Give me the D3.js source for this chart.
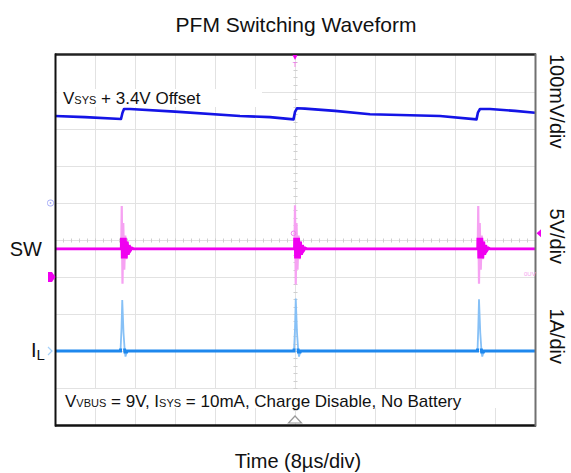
<!DOCTYPE html>
<html><head><meta charset="utf-8">
<script src="https://cdn.jsdelivr.net/npm/d3@7"></script>
<style>
body{margin:0;background:#fff;}
svg{display:block;font-family:Arial,"Liberation Sans",sans-serif;}
</style></head><body>
<svg id="chart" width="571" height="473"></svg>
<script>
// ---------------- data ----------------
const titleText = "PFM Switching Waveform";
const xLabelText = "Time (8µs/div)";
const timePerDiv = 8;          // µs per division
const xDivisions = 12;
const yDivisions = 10;
const scaleLabels = ["100mV/div", "5V/div", "1A/div"];
const traceLabels = ["SW", "I", "L"];

// VSYS (mV above 3.4V offset) vs time (µs); 100 mV/div, reference at +1 div
const vsysData = [
  [0,235],[6,232],[13.2,227],[13.5,244],[13.8,254],[15,254],[24,247],[37,235],[43,232],[47.7,226],
  [48.0,246],[48.4,256],[50,255],[56,249],[63,240],[77,235],[84.3,226],
  [84.6,245],[85.0,254],[87,254],[92,249],[96,244]
];
// SW node (V) vs time (µs); 5 V/div, ground at -1 div
const swData = [
  [0,3.8],[13.25,3.8],[13.35,9.6],[13.5,-0.9],[13.65,7.3],[13.85,1.0],[14.05,5.6],[14.25,2.4],[14.45,4.8],[14.65,3.0],[14.85,4.3],[15.1,3.6],[15.4,3.9],[15.7,3.8],
  [47.9,3.8],[48.0,9.7],[48.15,-1.0],[48.3,7.3],[48.5,1.0],[48.7,5.6],[48.9,2.4],[49.1,4.8],[49.3,3.0],[49.5,4.3],[49.75,3.6],[50.05,3.9],[50.35,3.8],
  [84.55,3.8],[84.65,9.6],[84.8,-0.9],[84.95,7.3],[85.15,1.0],[85.35,5.6],[85.55,2.4],[85.75,4.8],[85.95,3.0],[86.15,4.3],[86.4,3.6],[86.7,3.9],[87.0,3.8],[96,3.8]
];
// Inductor current (A) vs time (µs); 1 A/div, ground at -3 div
const ilData = [
  [0,0],[13.1,0],[13.3,0.6],[13.45,1.38],[13.7,0.5],[13.95,0],[14.1,-0.15],[14.4,0],
  [47.8,0],[48.0,0.6],[48.15,1.42],[48.4,0.5],[48.65,0],[48.8,-0.15],[49.1,0],
  [84.5,0],[84.65,0.6],[84.8,1.4],[85.05,0.5],[85.3,0],[85.45,-0.15],[85.75,0],[96,0]
];
const channels = [
  {name:"VSYS", data: vsysData, offsetDiv: 1,  perDiv: 100},
  {name:"SW",   data: swData,   offsetDiv: -1, perDiv: 5},
  {name:"IL",   data: ilData,   offsetDiv: -3, perDiv: 1}
];

// ---------------- layout ----------------
const svg = d3.select("#chart");
const P = {l:55, r:535, t:55, b:425};
const x = d3.scaleLinear().domain([0, xDivisions*timePerDiv]).range([P.l, P.r]);
const xd = d3.scaleLinear().domain([0, xDivisions]).range([P.l, P.r]);
const yd = d3.scaleLinear().domain([-yDivisions/2, yDivisions/2]).range([P.b, P.t]);
const yOf = ch => v => yd(ch.offsetDiv + v/ch.perDiv);

svg.append("rect").attr("width",571).attr("height",473).attr("fill","#fff");

// grid
const grid = svg.append("g").attr("stroke","#e2e2e2").attr("stroke-width",1);
d3.range(1, xDivisions).forEach(i => grid.append("line")
  .attr("x1", Math.round(xd(i))+0.5).attr("x2", Math.round(xd(i))+0.5).attr("y1",P.t).attr("y2",P.b));
d3.range(-yDivisions/2+1, yDivisions/2).forEach(i => grid.append("line")
  .attr("y1", Math.round(yd(i))+0.5).attr("y2", Math.round(yd(i))+0.5).attr("x1",P.l).attr("x2",P.r));
// minor ticks on centre lines
const tk = svg.append("g").attr("stroke","#cfcfcf").attr("stroke-width",1);
d3.range(0, xDivisions*5+1).forEach(i => {
  const xx = Math.round(xd(i/5))+0.5, yy = Math.round(yd(0))+0.5;
  tk.append("line").attr("x1",xx).attr("x2",xx).attr("y1",yy-2).attr("y2",yy+2);
});
d3.range(0, yDivisions*5+1).forEach(i => {
  const yy = Math.round(yd(-5+i/5))+0.5, xx = Math.round(xd(6))+0.5;
  tk.append("line").attr("y1",yy).attr("y2",yy).attr("x1",xx-2).attr("x2",xx+2);
});

// white label boxes
svg.append("rect").attr("x",57).attr("y",89).attr("width",205).attr("height",18).attr("fill","#fff");
svg.append("rect").attr("x",57).attr("y",389).attr("width",476).attr("height",19).attr("fill","#fff");

// clip bands for the "dense" part of the SW / IL traces
const defs = svg.append("defs");
const swY = yOf(channels[1]), ilY = yOf(channels[2]);
defs.append("clipPath").attr("id","swBand").append("rect")
  .attr("x",P.l).attr("width",P.r-P.l).attr("y",swY(5.3)).attr("height",swY(2.5)-swY(5.3));
defs.append("clipPath").attr("id","ilBand").append("rect")
  .attr("x",P.l).attr("width",P.r-P.l).attr("y",ilY(0.07)).attr("height",ilY(-0.07)-ilY(0.07));

// traces
const lineFor = ch => d3.line().x(d => x(d[0])).y(d => yOf(ch)(d[1]));
// VSYS
svg.append("path").datum(vsysData).attr("d", lineFor(channels[0]))
  .attr("fill","none").attr("stroke","#1414e6").attr("stroke-width",2.6).attr("stroke-linejoin","round");
// SW: light (fast edges) then dense magenta
svg.append("path").datum(swData).attr("d", lineFor(channels[1]))
  .attr("fill","none").attr("stroke","#f6a2f2").attr("stroke-width",2.2);
svg.append("path").datum(swData).attr("d", lineFor(channels[1])).attr("clip-path","url(#swBand)")
  .attr("fill","none").attr("stroke","#f000f0").attr("stroke-width",2.8);
// IL
svg.append("path").datum(ilData).attr("d", lineFor(channels[2]))
  .attr("fill","none").attr("stroke","#86c0f6").attr("stroke-width",1.8);
svg.append("path").datum(ilData).attr("d", lineFor(channels[2])).attr("clip-path","url(#ilBand)")
  .attr("fill","none").attr("stroke","#1e88ee").attr("stroke-width",3);

// frame
svg.append("line").attr("x1",P.l).attr("x2",P.r+1).attr("y1",P.t-0.5).attr("y2",P.t-0.5).attr("stroke","#222").attr("stroke-width",2.5);
svg.append("line").attr("x1",P.l).attr("x2",P.r+1).attr("y1",P.b+0.5).attr("y2",P.b+0.5).attr("stroke","#111").attr("stroke-width",2.5);
svg.append("line").attr("x1",P.l+0.5).attr("x2",P.l+0.5).attr("y1",P.t-1.5).attr("y2",P.b+1.5).attr("stroke","#111").attr("stroke-width",2);
svg.append("line").attr("x1",P.r+0.5).attr("x2",P.r+0.5).attr("y1",P.t-1.5).attr("y2",P.b+1.5).attr("stroke","#707070").attr("stroke-width",2);

// markers
const xc = xd(6);
svg.append("path").attr("d",`M${xc-2.5},${P.t} L${xc+2.5},${P.t} L${xc},${P.t+5} Z`).attr("fill","#f000f0");
svg.append("text").attr("x",xc).attr("y",P.t+12).attr("text-anchor","middle").attr("font-size",8).attr("fill","#f070f0").text("T");
svg.append("path").attr("d",`M${xc-6.5},${P.b-2} L${xc+6.5},${P.b-2} L${xc},${P.b-9} Z`).attr("fill","#fff").attr("stroke","#999").attr("stroke-width",1.2);
const ySWg = yd(-1);
svg.append("path").attr("d",`M48,${ySWg-5} L52,${ySWg-5} L55.5,${ySWg} L52,${ySWg+5} L48,${ySWg+5} Z`).attr("fill","#f000f0");
const yTrig = swY(5.9);
svg.append("path").attr("d",`M${P.r+1.5},${yTrig} L${P.r+6},${yTrig-4} L${P.r+6},${yTrig+4} Z`).attr("fill","#f000f0");
svg.append("circle").attr("cx",xc-1.5).attr("cy",yTrig).attr("r",2.3).attr("fill","none").attr("stroke","#f080f0").attr("stroke-width",1);
svg.append("text").attr("x",524).attr("y",276).attr("font-size",6).attr("fill","#f7a0f0").text("0UV");
const yV1 = yd(1);
svg.append("rect").attr("x",47.5).attr("y",yV1-3).attr("width",6).attr("height",6).attr("rx",2.5)
  .attr("fill","none").attr("stroke","#a8aef8").attr("stroke-width",1);
svg.append("circle").attr("cx",50.5).attr("cy",yV1).attr("r",0.9).attr("fill","#a8aef8");
const yI = yd(-3);
svg.append("path").attr("d",`M48,${yI-4} L52,${yI} L48,${yI+4}`).attr("fill","none").attr("stroke","#a6d2fb").attr("stroke-width",1.2);

// texts
svg.append("text").attr("x",296).attr("y",32).attr("text-anchor","middle").attr("font-size",21).attr("fill","#111").text(titleText);
svg.append("text").attr("x",298).attr("y",468).attr("text-anchor","middle").attr("font-size",20).attr("fill","#111").text(xLabelText);

const t1 = svg.append("text").attr("x",63).attr("y",104).attr("font-size",17).attr("fill","#111");
t1.append("tspan").text("V");
t1.append("tspan").attr("font-size",11).text("SYS");
t1.append("tspan").text(" + 3.4V Offset");

const t2 = svg.append("text").attr("x",65).attr("y",406.5).attr("font-size",17).attr("fill","#111");
t2.append("tspan").text("V");
t2.append("tspan").attr("font-size",11).text("VBUS");
t2.append("tspan").text(" = 9V, I");
t2.append("tspan").attr("font-size",11).text("SYS");
t2.append("tspan").text(" = 10mA, Charge Disable, No Battery");

svg.append("text").attr("x",42).attr("y",256).attr("text-anchor","end").attr("font-size",20).attr("fill","#111").text(traceLabels[0]);
const t3 = svg.append("text").attr("x",31).attr("y",357).attr("font-size",20).attr("fill","#111");
t3.append("tspan").text(traceLabels[1]);
t3.append("tspan").attr("font-size",15).attr("dy",3).text(traceLabels[2]);

const scaleCenters = [yd(3.75), yd(0.1), yd(-2.6)];
scaleLabels.forEach((s,i) => {
  svg.append("text").attr("transform",`translate(550,${scaleCenters[i]}) rotate(90)`)
    .attr("text-anchor","middle").attr("font-size",20).attr("fill","#111").text(s);
});
</script>
</body></html>
